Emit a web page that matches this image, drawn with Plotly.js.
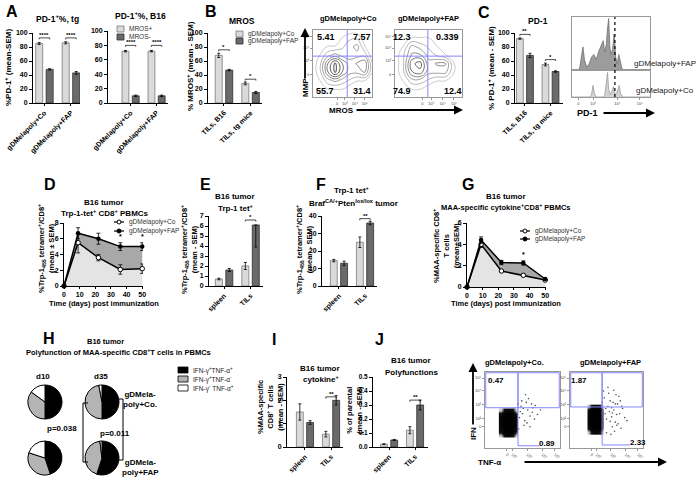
<!DOCTYPE html>
<html><head><meta charset="utf-8">
<script src="https://cdn.plot.ly/plotly-3.0.1.min.js"></script>
<style>html,body{margin:0;padding:0;background:#fff}#chart{width:700px;height:481px}</style>
</head><body><div id="chart"></div>
<script>
const W=700,H=481;
const FF='Liberation Sans, Arial, sans-serif';
// ---------- DATA ----------
const catsA=['gDMelapoly+Co','gDMelapoly+FAP'];
const catsTil=['TILs, B16','TILs, tg mice'];
const catsSite=['spleen','TILs'];
// A
const aTgPos=[85,86], aTgPosErr=[1.5,1.5], aTgNeg=[48,43], aTgNegErr=[1,2];
const aB16Pos=[72,72], aB16PosErr=[1,1], aB16Neg=[10,10], aB16NegErr=[1,1];
// B
const bCo=[68,28], bCoErr=[3,2], bFap=[47,15], bFapErr=[1,1.5];
// C
const cCo=[92,55], cCoErr=[1,2], cFap=[68,45], cFapErr=[3,1];
// D
const days=[0,9,22,36,50];
const dCo=[0,5.5,3.6,2.1,2.2], dCoErr=[0,1.3,0.4,0.6,0.6];
const dFap=[0,6.7,6.0,5.0,5.0], dFapErr=[0,0.7,0.7,0.5,0.5];
// E
const eCo=[0.7,2.0], eCoErr=[0.08,0.35], eFap=[1.6,6.1], eFapErr=[0.15,2.2], eFapErrUp=[0.15,0];
// F
const fCo=[14.5,25], fCoErr=[0.7,3], fFap=[13,36], fFapErr=[1.2,1];
// G
const gCo=[0,4.0,1.5,1.1,0.65], gCoErr=[0,0.3,0.1,0.1,0.1];
const gFap=[0,4.4,2.3,2.25,0.75], gFapErr=[0,0.3,0.2,0.2,0.1];
// H
const hLabels=['IFN-γ+TNF-α+','IFN-γ+TNF-α-','IFN-γ- TNF-α+'];
const d10Co=[50,35,15], d10Fap=[45,35,20], d35Co=[50,47,3], d35Fap=[55,43,2];
// I, J
const iCo=[1.5,0.55], iCoErr=[0.35,0.12], iFap=[1.05,2.0], iFapErr=[0.08,0.2];
const jCo=[0.02,0.12], jCoErr=[0.003,0.025], jFap=[0.05,0.30], jFapErr=[0.004,0.035];
// B flow contours (density grid)
const gridXY=[0,0.125,0.25,0.375,0.5,0.625,0.75,0.875,1];
const zMrosCo=[[0,0,0,0,0,0,0,0,0],[0,0,1,1,1,0,0,0,0],[0,1,3,4,3,2,1,1,0],[0,2,6,9,6,4,4,5,1],[0,2,6,9,6,4,5,6,1],[0,1,3,4,3,3,3,3,0],[0,0,1,1,2,3,4,1,0],[0,0,0,0,1,2,2,0,0],[0,0,0,0,0,0,0,0,0]];
const zMrosFap=[[0,0,0,0,0,0,0,0,0],[0,0,1,1,0,0,0,0,0],[0,1,3,3,2,1,1,0,0],[0,2,6,7,4,4,4,1,0],[0,2,7,8,4,5,5,1,0],[0,2,5,5,3,2,1,0,0],[0,1,4,3,2,1,0,0,0],[0,0,1,1,1,0,0,0,0],[0,0,0,0,0,0,0,0,0]];
// C histograms
const hFapX=[0,8,10,12,14,16,19,22,25,28,31,34,37,40,42,44,45.5,47,48.5,50,52,54,56,58,60,62,64,67,100];
const hFapY=[0,0,0.05,0.3,0.45,0.2,0.05,0.12,0.25,0.3,0.2,0.35,0.45,0.57,0.35,0.5,0.8,1.0,0.45,0.3,0.4,0.7,0.25,0.12,0.3,0.15,0.03,0,0];
const hCoX=[0,23,25,27,29,31,40,42,44,45.5,47,49,51,53,55,57,59,60.5,62,65,100];
const hCoY=[0,0,0.1,0.45,0.1,0,0,0.05,0.55,0.95,0.3,0.1,0.2,0.4,0.1,0.15,0.3,0.45,0.15,0,0];
// flow dot plots
const core1X=[0.21,0.26,0.31,0.36,0.41], core1Y=[0.17,0.22,0.28,0.34,0.40,0.46,0.50];
const core2X=[0.26,0.30,0.35,0.40,0.44], core2Y=[0.21,0.27,0.33,0.39,0.45,0.51,0.55];
const coreZ=[[2,6,8,6,2],[6,10,10,10,5],[8,10,10,10,7],[8,10,10,10,7],[8,10,10,10,7],[6,10,10,10,5],[2,6,8,6,2]];
const fx1=[0.46,0.50,0.53,0.57,0.60,0.48,0.55,0.63,0.67,0.52,0.45,0.58,0.70,0.49,0.62,0.56,0.47,0.66,0.51,0.74,0.60,0.54,0.44,0.64];
const fy1=[0.40,0.45,0.36,0.50,0.42,0.55,0.60,0.47,0.56,0.30,0.25,0.65,0.44,0.62,0.58,0.33,0.48,0.38,0.52,0.50,0.28,0.70,0.58,0.53];
const fx2=[0.45,0.48,0.50,0.52,0.55,0.57,0.60,0.62,0.65,0.68,0.70,0.47,0.53,0.58,0.63,0.72,0.75,0.50,0.56,0.61,0.66,0.46,0.54,0.59,0.64,0.69,0.78,0.52,0.57,0.62,0.49,0.55,0.67,0.71,0.60,0.44,0.58,0.64];
const fy2=[0.30,0.45,0.38,0.55,0.62,0.41,0.50,0.34,0.58,0.45,0.26,0.66,0.72,0.28,0.70,0.52,0.40,0.20,0.18,0.22,0.32,0.75,0.48,0.60,0.44,0.62,0.36,0.80,0.53,0.58,0.52,0.35,0.68,0.55,0.76,0.60,0.46,0.30];

// ---------- BUILD ----------
const LIGHT='#dadada', LIGHTL='#7a7a7a', DARK='#6a6a6a', DARKL='#2e2e2e', GATE='#8585ff';
const data=[], shapes=[], anns=[];
const layout={width:W,height:H,margin:{l:0,r:0,t:0,b:0},paper_bgcolor:'#fff',plot_bgcolor:'rgba(0,0,0,0)',
  showlegend:false,hovermode:false,barmode:'group',bargap:0.21,bargroupgap:0.33,font:{family:FF,color:'#000'}};
function ids(n){return n===1?['x','y']:['x'+n,'y'+n];}
function base(){return {showline:true,linecolor:'#000',linewidth:1,ticks:'outside',ticklen:3,tickwidth:1,tickcolor:'#000',
  showgrid:false,zeroline:false,fixedrange:true,tickfont:{family:FF,size:7,weight:'bold',color:'#000'}};}
function axis(n,xpx,ypx,xo,yo){
  const [xid,yid]=ids(n);
  layout[n===1?'xaxis':'xaxis'+n]=Object.assign(base(),{domain:[xpx[0]/W,xpx[1]/W],anchor:yid},xo);
  layout[n===1?'yaxis':'yaxis'+n]=Object.assign(base(),{domain:[1-ypx[1]/H,1-ypx[0]/H],anchor:xid},yo);
}
function T(text,x,y,size,bold,o){
  anns.push(Object.assign({text:text,x:x/W,y:1-y/H,xref:'paper',yref:'paper',showarrow:false,xanchor:'center',yanchor:'middle',
    font:{family:FF,size:size||8,color:'#000',weight:bold===false?'normal':'bold'}},o||{}));
}
function arrow(hx,hy,tx,ty){
  anns.push({text:'',x:hx/W,y:1-hy/H,xref:'paper',yref:'paper',showarrow:true,axref:'pixel',ayref:'pixel',ax:tx-hx,ay:ty-hy,
    arrowhead:2,arrowsize:1,arrowwidth:1.8,arrowcolor:'#000'});
}
function rectPx(x0,y0,x1,y1,fill,line){shapes.push({type:'rect',xref:'paper',yref:'paper',x0:x0/W,x1:x1/W,y0:1-y0/H,y1:1-y1/H,fillcolor:fill,line:{color:line||'#000',width:0.8}});}
function linePx(x0,y0,x1,y1,w){shapes.push({type:'line',xref:'paper',yref:'paper',x0:x0/W,x1:x1/W,y0:1-y0/H,y1:1-y1/H,line:{color:'#000',width:w||1}});}
function bars(n,cats,v1,e1,v2,e2,e2up){
  const [xid,yid]=ids(n);
  data.push({type:'bar',x:cats,y:v1,xaxis:xid,yaxis:yid,offsetgroup:'a',marker:{color:LIGHT,line:{color:LIGHTL,width:0.8}},
    error_y:{type:'data',array:e1,color:'#000',thickness:0.8,width:1.5}});
  data.push({type:'bar',x:cats,y:v2,xaxis:xid,yaxis:yid,offsetgroup:'b',marker:{color:DARK,line:{color:DARKL,width:0.8}},
    error_y:{type:'data',symmetric:false,array:e2up||e2,arrayminus:e2,color:'#000',thickness:0.8,width:1.5}});
}
function bracket(n,i,y,d,stars){
  const [xid,yid]=ids(n);
  const x0=i-0.2,x1=i+0.2;
  shapes.push({type:'path',xref:xid,yref:yid,path:`M${x0},${y-d} L${x0},${y} L${x1},${y} L${x1},${y-d}`,line:{color:'#000',width:0.7}});
  anns.push({text:stars,x:i,y:y,xref:xid,yref:yid,showarrow:false,yanchor:'bottom',yshift:-2,font:{family:FF,size:6,weight:'bold',color:'#000'}});
}
const catX={type:'category',ticklen:2,tickangle:-45,tickfont:{family:FF,size:7,weight:'bold',color:'#000'}};
function yr(r,dt,fmt){return {range:r,dtick:dt,tickformat:fmt||''};}

// A
axis(1,[33,80],[33,103],Object.assign({},catX,{range:[-0.43,1.34]}),yr([0,100],20));
bars(1,catsA,aTgPos,aTgPosErr,aTgNeg,aTgNegErr);
bracket(1,0,93,2,'****'); bracket(1,1,93,2,'****');
axis(2,[108,168],[31,103],Object.assign({},catX,{range:[-0.87,1.44]}),yr([0,100],20));
bars(2,catsA,aB16Pos,aB16PosErr,aB16Neg,aB16NegErr);
bracket(2,0,80,2,'****'); bracket(2,1,80,2,'****');
// B
axis(3,[208,262],[33,103],Object.assign({},catX,{range:[-0.6,1.43]}),yr([0,100],20));
bars(3,catsTil,bCo,bCoErr,bFap,bFapErr);
bracket(3,0,76,2,'*'); bracket(3,1,34,2,'*');
// C
axis(6,[515,563],[33,103],Object.assign({},catX,{range:[-0.39,1.49]}),yr([0,100],20));
bars(6,catsTil,cCo,cCoErr,cFap,cFapErr);
bracket(6,0,98,2,'**'); bracket(6,1,62,2,'*');
// E
axis(10,[209,263],[216,286],Object.assign({},catX,{range:[-0.57,1.47]}),yr([0,7],1));
bars(10,catsSite,eCo,eCoErr,eFap,eFapErr,eFapErrUp);
bracket(10,1,6.6,0.15,'*');
// F
axis(11,[322,377],[216,286],Object.assign({},catX,{range:[-0.65,1.46]}),yr([0,40],10));
bars(11,catsSite,fCo,fCoErr,fFap,fFapErr);
bracket(11,1,38.5,1,'**');
// I
axis(13,[287,343],[377,447],Object.assign({},catX,{range:[-0.69,1.46]}),yr([0,3],1));
bars(13,catsSite,iCo,iCoErr,iFap,iFapErr);
bracket(13,1,2.15,0.08,'**');
// J
axis(14,[373,428],[377,447],Object.assign({},catX,{range:[-0.62,1.5]}),Object.assign(yr([0,0.5],0.1,'.1f'),{tickfont:{family:FF,size:6.5,weight:'bold',color:'#000'}}));
bars(14,catsSite,jCo,jCoErr,jFap,jFapErr);
bracket(14,1,0.335,0.012,'**');

// D & G line charts
function lines(n,co,coE,fap,fapE){
  const [xid,yid]=ids(n);
  data.push({type:'scatter',mode:'lines+markers',x:days,y:co,xaxis:xid,yaxis:yid,cliponaxis:false,fill:'tozeroy',fillcolor:'#e4e4e4',
    line:{color:'#000',width:1.5},marker:{symbol:'circle',size:4.5,color:'#fff',line:{color:'#000',width:1}},
    error_y:{type:'data',array:coE,color:'#000',thickness:0.8,width:2}});
  data.push({type:'scatter',mode:'lines+markers',x:days,y:fap,xaxis:xid,yaxis:yid,cliponaxis:false,fill:'tonexty',fillcolor:'#a8a8a8',
    line:{color:'#000',width:1.5},marker:{symbol:'circle',size:4.5,color:'#000'},
    error_y:{type:'data',array:fapE,color:'#000',thickness:0.8,width:2}});
}
axis(9,[64,143],[223,286],{range:[0,50.5],dtick:10,ticklen:2},yr([0,8],2));
lines(9,dCo,dCoErr,dFap,dFapErr);
anns.push({text:'*',x:36,y:5.55,xref:'x9',yref:'y9',showarrow:false,yanchor:'bottom',font:{family:FF,size:7,weight:'bold'}});
anns.push({text:'*',x:50,y:5.55,xref:'x9',yref:'y9',showarrow:false,yanchor:'bottom',font:{family:FF,size:7,weight:'bold'}});
axis(12,[467,546],[223,287],{range:[0,50.5],dtick:10,ticklen:2},yr([0,6],2));
lines(12,gCo,gCoErr,gFap,gFapErr);
anns.push({text:'*',x:36,y:2.55,xref:'x12',yref:'y12',showarrow:false,yanchor:'bottom',font:{family:FF,size:7,weight:'bold'}});

// B contour flow plots
const flowAx={linecolor:'#999',mirror:true,ticklen:2,tickcolor:'#999',tickfont:{family:FF,size:4,color:'#444'},range:[0,1]};
function contourPanel(n,xpx,z,vx,hy){
  const [xid,yid]=ids(n);
  axis(n,xpx,[30,97],Object.assign({},flowAx,{tickvals:[0.41,0.54,0.71,0.88],ticktext:['0','10³','10⁴','10⁵']}),
    Object.assign({},flowAx,{tickvals:[0.33,0.54,0.73,0.9],ticktext:['0','10³','10⁴','10⁵']}));
  data.push({type:'contour',x:gridXY,y:gridXY,z:z,xaxis:xid,yaxis:yid,showscale:false,
    contours:{coloring:'lines',start:0.9,end:9,size:1.3},line:{width:0.8,smoothing:1.3},colorscale:[[0,'#bdbdbd'],[1,'#1a1a1a']]});
  shapes.push({type:'line',xref:xid,yref:yid,x0:vx,x1:vx,y0:0,y1:1,line:{color:GATE,width:1}});
  shapes.push({type:'line',xref:xid,yref:yid,x0:0,x1:1,y0:hy,y1:hy,line:{color:GATE,width:1}});
}
contourPanel(4,[313,372],zMrosCo,0.58,0.61);
contourPanel(5,[395,462],zMrosFap,0.49,0.61);

// C histograms
axis(7,[572,650],[17,70],{linecolor:'#999',mirror:true,ticks:'',showticklabels:false,range:[0,100]},
  {linecolor:'#999',mirror:true,ticks:'',showticklabels:false,range:[0,1.03]});
axis(8,[572,650],[70,97],{linecolor:'#999',mirror:true,ticklen:2,tickcolor:'#999',range:[0,100],tickvals:[8,27,58,87],ticktext:['0','10³','10⁴','10⁵'],tickfont:{family:FF,size:4,color:'#444'}},
  {linecolor:'#999',mirror:true,ticks:'',showticklabels:false,range:[0,1.05]});
data.push({type:'scatter',mode:'lines',x:hFapX,y:hFapY,xaxis:'x7',yaxis:'y7',fill:'tozeroy',fillcolor:'#9c9c9c',line:{color:'#707070',width:0.8}});
data.push({type:'scatter',mode:'lines',x:hCoX,y:hCoY,xaxis:'x8',yaxis:'y8',fill:'tozeroy',fillcolor:'#d2d2d2',line:{color:'#9a9a9a',width:0.8}});
shapes.push({type:'line',xref:'x7',yref:'paper',x0:55,x1:55,y0:1-97/H,y1:1-17/H,line:{color:'#000',width:1.2,dash:'dot'}});

// flow dot plots (bottom right)
function dotPanel(n,xpx,cx,cy,px,py,vx,hy,by,bx){
  const [xid,yid]=ids(n);
  axis(n,xpx,[372,448],Object.assign({},flowAx,{tickvals:[0.29,0.36,0.56,0.76,0.93],ticktext:['0','10²','10³','10⁴','10⁵']}),
    Object.assign({},flowAx,{tickvals:[0.28,0.39,0.57,0.76,0.92],ticktext:['0','10²','10³','10⁴','10⁵']}));
  data.push({type:'heatmap',x:cx,y:cy,z:coreZ,xaxis:xid,yaxis:yid,zsmooth:'best',showscale:false,zmin:0,zmax:10,
    colorscale:[[0,'rgba(255,255,255,0)'],[0.25,'rgba(90,90,90,0.5)'],[0.5,'#111'],[1,'#000']]});
  data.push({type:'scatter',mode:'markers',x:px,y:py,xaxis:xid,yaxis:yid,marker:{size:1.6,color:'#555'}});
  shapes.push({type:'rect',xref:xid,yref:yid,x0:0.01,x1:vx,y0:hy,y1:0.99,line:{color:GATE,width:1}});
  shapes.push({type:'rect',xref:xid,yref:yid,x0:vx,x1:0.99,y0:hy,y1:0.99,line:{color:GATE,width:1}});
  shapes.push({type:'line',xref:xid,yref:yid,x0:vx,x1:vx,y0:by,y1:hy,line:{color:GATE,width:1}});
  shapes.push({type:'line',xref:xid,yref:yid,x0:vx,x1:bx,y0:by,y1:by,line:{color:GATE,width:1}});
}
dotPanel(15,[485,560],core1X,core1Y,fx1,fy1,0.44,0.53,0.03,0.73);
dotPanel(16,[570,643],core2X,core2Y,fx2,fy2,0.44,0.54,0.04,0.82);

// H pies
function pie(vals,x0,x1,y0,y1){
  data.push({type:'pie',values:vals,labels:hLabels,sort:false,direction:'clockwise',rotation:0,textinfo:'none',hoverinfo:'skip',
    domain:{x:[x0/W,x1/W],y:[1-y1/H,1-y0/H]},marker:{colors:['#000','#b4b4b4','#fff'],line:{color:'#000',width:1}}});
}
pie(d10Co,28,62,385,419); pie(d35Co,85,119,385,419);
pie(d10Fap,28,62,441,475); pie(d35Fap,85,119,441,475);

// ---------- TEXT ----------
[['A',12,11],['B',211,11],['C',484,13],['D',50,185],['E',206,184],['F',321,184],['G',468,184],['H',49,338],['I',274,339],['J',380,339]]
  .forEach(a=>T(a[0],a[1],a[2],16,true));
T('PD-1<sup>+</sup>%, tg',57,18,8.5); T('PD-1<sup>+</sup>%, B16',140,15,8.5);
T('MROS',242,21,8.5); T('PD-1',538,21,8.5);
T('gDMelapoly+Co',348,18,7.5); T('gDMelapoly+FAP',428,18,7.5);
T('B16 tumor',104,202,8); T('Trp-1-tet<sup>+</sup> CD8<sup>+</sup> PBMCs',105,213,8);
T('B16 tumor',235,197,8); T('Trp-1 tet<sup>+</sup>',236,208,8);
T('Trp-1 tet<sup>+</sup>',352,190,8); T('Braf<sup>CA/+</sup>Pten<sup>lox/lox</sup> tumor',354,203,8);
T('B16 tumor',506,196,8); T('MAA-specific cytokine<sup>+</sup>CD8<sup>+</sup> PBMCs',506,207,7.5);
T('B16 tumor',105,341,7.5); T('Polyfunction of MAA-specific CD8<sup>+</sup>T cells in PBMCs',118,352,7.5);
T('B16 tumor',320,368,8); T('cytokine<sup>+</sup>',321,379,8);
T('B16 tumor',411,360,8); T('Polyfunctions',411,372,8);
T('gDMelapoly+Co.',514,362,7.5); T('gDMelapoly+FAP',610,362,7.5);
T('Time (days) post immunization',104,303,7.5); T('Time (days) post immunization',506,303,7.5);
// y titles
const rot={textangle:-90};
T('%PD-1<sup>+</sup> (mean-SEM)',8,68,8,true,rot);
T('% MROS<sup>+</sup> (mean - SEM)',190,66,8,true,rot);
T('% PD-1<sup>+</sup> (mean - SEM)',491,68,8,true,rot);
T('%Trp-1<sub>455</sub> tetramer<sup>+</sup>/CD8<sup>+</sup><br>(mean ± SEM)',46,249,7.5,true,rot);
T('%Trp-1<sub>455</sub> tetramer<sup>+</sup>/CD8<sup>+</sup><br>(mean - SEM)',189,250,7.5,true,rot);
T('%Trp-1<sub>455</sub> tetramer<sup>+</sup>/CD8<sup>+</sup><br>(mean - SEM)',304,250,7.5,true,rot);
T('%MAA-specific CD8<sup>+</sup><br>T cells<br>(mean±SEM)',446,246,7.5,true,rot);
T('%MAA-specific<br>CD8<sup>+</sup> T cells<br>(mean - SEM)',270,407,7.5,true,rot);
T('% of parental<br>(mean - SEM)',354,410,7.5,true,rot);
// legends
rectPx(117,26,124,32,LIGHT,LIGHTL); T('MROS+',127,29,6.5,false,{xanchor:'left',font:{family:FF,size:6.5,color:'#333'}});
rectPx(117,34,124,40,DARK,DARKL); T('MROS-',127,37,6.5,false,{xanchor:'left',font:{family:FF,size:6.5,color:'#333'}});
rectPx(236,31,243,37,LIGHT,LIGHTL); T('gDMelapoly+Co',246,34,6.5,false,{xanchor:'left',font:{family:FF,size:6.5,color:'#333'}});
rectPx(236,38,243,44,DARK,DARKL); T('gDMelapoly+FAP',246,41,6.5,false,{xanchor:'left',font:{family:FF,size:6.5,color:'#333'}});
function lineLeg(x,y,filled,label){
  linePx(x,y,x+10,y,1.2);
  shapes.push({type:'circle',xref:'paper',yref:'paper',x0:(x+3)/W,x1:(x+7)/W,y0:1-(y+2)/H,y1:1-(y-2)/H,fillcolor:filled?'#000':'#fff',line:{color:'#000',width:1}});
  T(label,x+13,y,6.5,false,{xanchor:'left',font:{family:FF,size:6.5,color:'#333'}});
}
lineLeg(114,222,false,'gDMelapoly+Co'); lineLeg(114,231,true,'gDMelapoly+FAP');
lineLeg(520,231,false,'gDMelapoly+Co'); lineLeg(520,239,true,'gDMelapoly+FAP');
rectPx(178,367,188,373,'#000'); rectPx(178,376,188,382,'#b4b4b4'); rectPx(178,385,188,391,'#fff');
T('IFN-γ<sup>+</sup>TNF-α<sup>+</sup>',191,370,6.5,false,{xanchor:'left',font:{family:FF,size:6.5,color:'#222'}});
T('IFN-γ<sup>+</sup>TNF-α<sup>-</sup>',191,379,6.5,false,{xanchor:'left',font:{family:FF,size:6.5,color:'#222'}});
T('IFN-γ<sup>-</sup> TNF-α<sup>+</sup>',191,388,6.5,false,{xanchor:'left',font:{family:FF,size:6.5,color:'#222'}});
// H labels & brackets
T('d10',43,376,8); T('d35',101,376,8);
T('gDMela-<br>poly+Co.',140,399,8,true,{xanchor:'center'});
T('gDMela-<br>poly+FAP',140,467,8,true,{xanchor:'center'});
T('p=0.038',62,428,8); T('p=0.011',115,433,8);
linePx(83,403,83,462,1); linePx(83,403,88,403,1); linePx(83,462,88,462,1);
linePx(123,399,123,460,1); linePx(118,399,123,399,1); linePx(118,460,123,460,1);
// flow numbers
[['5.41',326,37],['7.57',362,37],['55.7',325,91],['31.4',362,91],['12.3',402,37],['0.339',447,37],['74.9',402,91],['12.4',453,91]]
  .forEach(a=>T(a[0],a[1],a[2],9,true));
[['0.47',496,380],['0.89',547,443],['1.87',579,380],['2.33',638,442]].forEach(a=>T(a[0],a[1],a[2],8,true));
T('gDMelapoly+FAP',665,63,8,false,{font:{family:FF,size:8,color:'#222'}});
T('gDMelapoly+Co',665,90,8,false,{font:{family:FF,size:8,color:'#222'}});
// arrows and flow axis labels
arrow(305,28,305,80); T('MMP',305,88,8,true,rot);
arrow(463,110,355,110); T('MROS',341,110,8);
arrow(655,113,602,113); T('PD-1',587,113,9);
arrow(473,363,473,426); T('IFN',473,434,8,true,rot);
arrow(667,462,523,462); T('TNF-α',490,462,8);

layout.shapes=shapes; layout.annotations=anns;
Plotly.newPlot('chart',data,layout,{displayModeBar:false,staticPlot:true});
</script></body></html>
